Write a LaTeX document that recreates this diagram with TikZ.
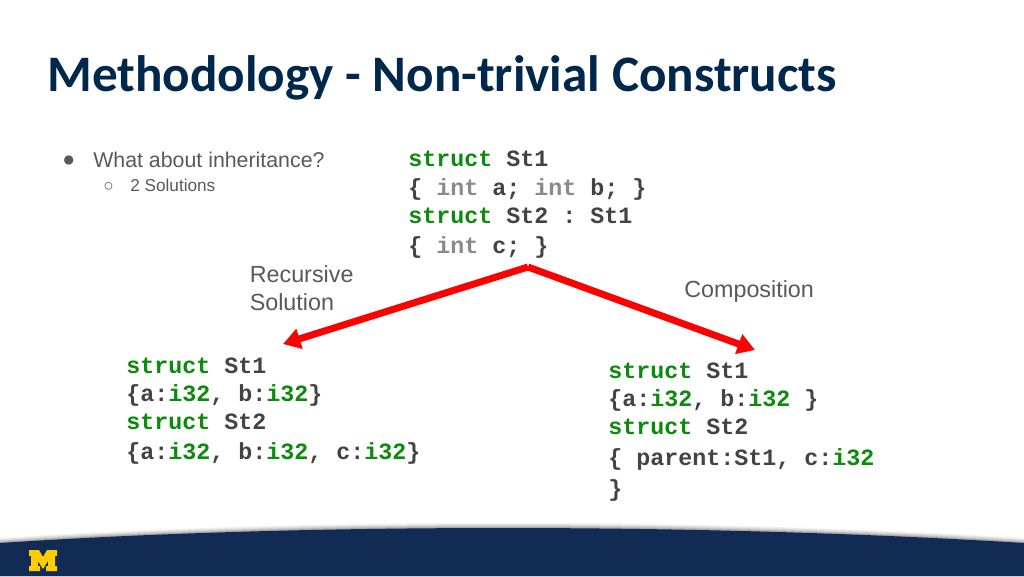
\documentclass[tikz,border=0pt]{standalone}
\usepackage{fontspec}
\setmainfont{Liberation Sans}
\setmonofont{Liberation Mono}
\newfontfamily\titlefont{Carlito}
\usetikzlibrary{arrows.meta}
\definecolor{titleblue}{HTML}{00274C}
\definecolor{footblue}{HTML}{122B54}
\definecolor{maize}{HTML}{FFCB05}
\definecolor{kwgreen}{HTML}{0B8A0B}
\definecolor{codegray}{HTML}{434343}
\definecolor{intgray}{HTML}{8A8A8A}
\definecolor{textgray}{HTML}{595959}
\newcommand{\kw}[1]{\textcolor{kwgreen}{#1}}
\newcommand{\tint}[1]{\textcolor{intgray}{#1}}
\tikzset{
  code/.style={anchor=base west, inner sep=0pt, text=codegray, font=\fontsize{17.5}{20}\selectfont\ttfamily\bfseries},
  label/.style={anchor=base west, inner sep=0pt, text=textgray, font=\fontsize{17.5}{20}\selectfont},
  itema/.style={label, font=\fontsize{16}{18}\selectfont},
  itemb/.style={label, font=\fontsize{12.9}{14}\selectfont},
  branch/.style={red, line width=5.2pt, -{Triangle[length=13pt,width=15pt]}}
}
\begin{document}
\begin{tikzpicture}[x=.75pt,y=-.75pt]
  \useasboundingbox (0,0) rectangle (1024,576);

  % footer band
  \foreach \off/\shade in {5/5,4/10,3/17,2/25,1/34}
    \fill[black!\shade!white] (0,543-\off) .. controls (300,523-\off) and (700,523-\off) .. (1024,543-\off) -- (1024,576) -- (0,576) -- cycle;
  \fill[footblue] (0,543) .. controls (300,523) and (700,523) .. (1024,543) -- (1024,576) -- (0,576) -- cycle;
  \fill[maize] (29,550) -- (39,550) -- (43,557) -- (47,550) -- (57,550) -- (57,556) -- (55,556) -- (55,566) -- (57,566) -- (57,571) -- (46,571) -- (46,566) -- (48,566) -- (48,561) -- (43,569) -- (38,561) -- (38,566) -- (40,566) -- (40,571) -- (29,571) -- (29,566) -- (31,566) -- (31,556) -- (29,556) -- cycle;

  \node[anchor=base west, inner sep=0pt, text=titleblue, font=\fontsize{38.4}{42}\selectfont\titlefont\bfseries] (title) at (47,91) {Methodology - Non-trivial Constructs};

  % bullets
  \node[itema] (bulleta) at (62,166) {●};
  \node[itema] (whatabout) at (93,167) {What about inheritance?};
  \node[itemb] (bulletb) at (103,191) {○};
  \node[itemb] (solutions) at (130,191) {2 Solutions};

  % source
  \node[code] (srca) at (408,166) {\kw{struct} St1};
  \node[code] (srcb) at (408,195) {\{ \tint{int} a; \tint{int} b; \}};
  \node[code] (srcc) at (408,223) {\kw{struct} St2 : St1};
  \node[code] (srcd) at (408,253) {\{ \tint{int} c; \}};

  \node[label] (recursive) at (249.5,282) {Recursive};
  \node[label] (solution) at (249.5,310) {Solution};
  \node[label] (composition) at (684,297) {Composition};

  % recursive solution
  \node[code] (recura) at (126,373) {\kw{struct} St1};
  \node[code] (recurb) at (126,401) {\{a:\kw{i32}, b:\kw{i32}\}};
  \node[code] (recurc) at (126,429) {\kw{struct} St2};
  \node[code] (recurd) at (126,459) {\{a:\kw{i32}, b:\kw{i32}, c:\kw{i32}\}};

  % composition
  \node[code] (compa) at (608,378) {\kw{struct} St1};
  \node[code] (compb) at (608,406) {\{a:\kw{i32}, b:\kw{i32} \}};
  \node[code] (compc) at (608,434) {\kw{struct} St2};
  \node[code] (compd) at (608,465) {\{ parent:St1, c:\kw{i32}};
  \node[code] (compe) at (608,496) {\}};

  \coordinate (apex) at (528,267);
  \coordinate (lefttip) at (283,344);
  \coordinate (righttip) at (755,350);
  \draw[branch] (apex) -- (lefttip);
  \draw[branch] (apex) -- (righttip);
\end{tikzpicture}
\end{document}
